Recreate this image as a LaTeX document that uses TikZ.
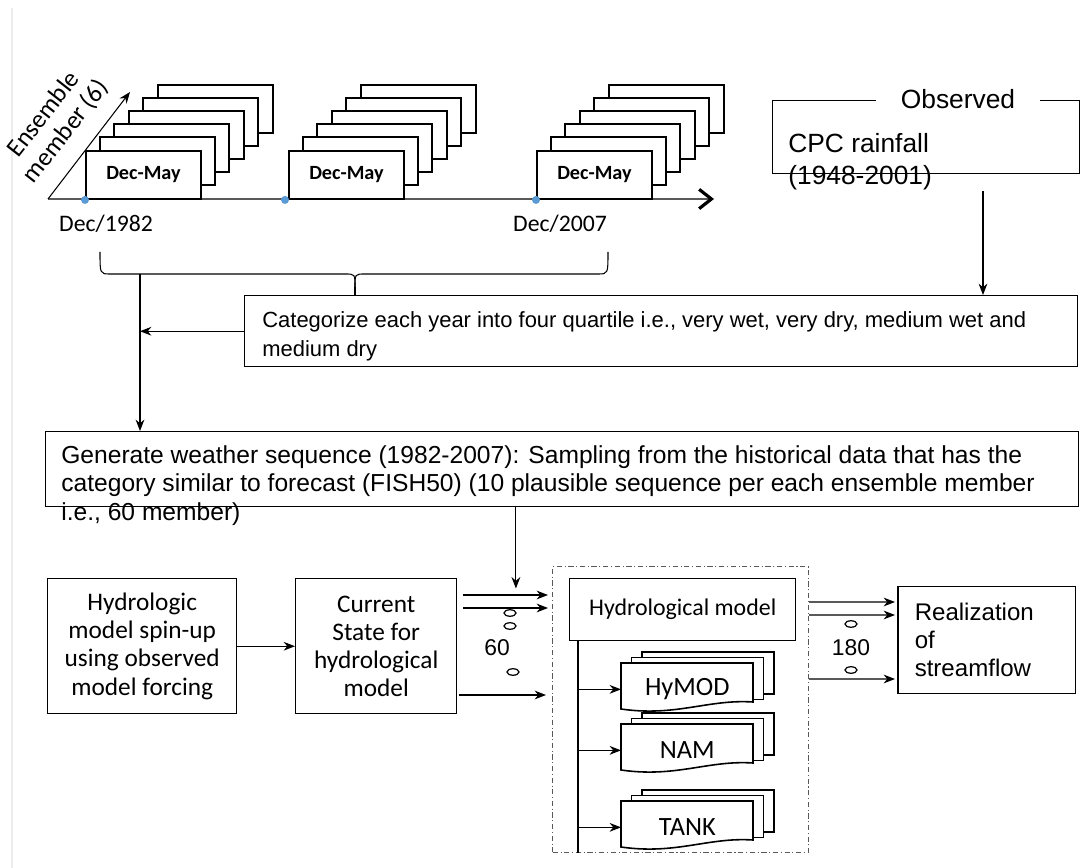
\documentclass[tikz,border=0pt]{standalone}
\usepackage{fontspec}
\setmainfont{Liberation Sans}
\newfontfamily\calibri{Carlito}
\usepackage{tikz}
\usetikzlibrary{arrows.meta, positioning}
\definecolor{dotblue}{RGB}{91,155,213}

% stacked document with a wavy bottom: name, left, top, label
\newcommand{\multidoc}[4]{%
  \foreach \k in {2,1}
    \draw[docline, fill=white] (#2+10.5*\k,#3-5.5*\k) rectangle ++(132,42);
  \draw[docline, fill=white] (#2,#3) -- ++(132,0) -- ++(0,39)
    .. controls +(-45,-3) and +(55,8) .. (#2,#3+46) -- cycle;
  \node[doctext, anchor=north west] (#1) at (#2,#3) {#4};
}

\begin{document}
\begin{tikzpicture}[
    x=0.02cm, y=-0.02cm,
    >={Stealth[length=6.5pt, width=5pt]},
  ]
  \tikzset{
    box/.style = {draw, line width=0.85pt, fill=white, inner sep=0pt},
    conn/.style = {line width=0.6pt},
    stackline/.style = {line width=1.1pt},
    stackbox/.style = {draw, stackline, fill=white, inner sep=0pt,
      minimum width=2.3cm, minimum height=0.96cm,
      font=\calibri\bfseries\fontsize{11.5}{13}\selectfont},
    datelabel/.style = {font=\calibri\fontsize{13.5}{16}\selectfont},
    calbox/.style = {box, align=center, font=\calibri\fontsize{14.4}{16}\selectfont},
    docline/.style = {line width=0.9pt},
    doctext/.style = {inner sep=0pt, minimum width=2.64cm, minimum height=1.04cm,
      font=\calibri\fontsize{15}{16}\selectfont},
    ovalmark/.style = {line width=0.7pt},
    numtext/.style = {font=\fontsize{13}{15}\selectfont},
  }

  \useasboundingbox (0,0) rectangle (1086,868);
  \fill[white] (0,0) rectangle (1086,868);
  \draw[gray!15, line width=1.5pt] (12,8) -- (12,868);

  % Time axis
  \coordinate (t0) at (48,199);
  \coordinate (tend) at (714,199);
  \draw[line width=0.6pt, gray!70!black,
        -{Straight Barb[length=7pt, width=11pt, line width=1.8pt, black]}] (t0) -- (tend);

  % Ensemble direction
  \coordinate (ens tip) at (130,92);
  \draw[conn, ->] (t0) -- (ens tip);
  \node[rotate=52, align=center, font=\calibri\fontsize{14.5}{16}\selectfont]
    (ens label) at (55,123) {Ensemble\\member (6)};

  % Stacks of members
  \foreach \sx/\n in {85/1, 288/2, 536/3} {
    \foreach \k in {5,...,1}
      \draw[stackline, fill=white] (\sx+14.6*\k,150-13*\k) rectangle ++(115,48);
    \node[stackbox, anchor=north west] (s\n) at (\sx,150) {Dec-May};
  }
  \fill[dotblue] (s1.south west) circle (0.08cm);
  \fill[dotblue] ([xshift=-0.06cm]s2.south west) circle (0.08cm);
  \fill[dotblue] (s3.south west) circle (0.08cm);

  \node[datelabel] (y1982) at (106,224) {Dec/1982};
  \node[datelabel] (y2007) at (560,224) {Dec/2007};

  % Observed
  \node[box, anchor=north west, minimum width=6.14cm, minimum height=1.46cm] (obs) at (772,100) {};
  \node[fill=white, inner xsep=0.5cm, inner ysep=1pt, font=\fontsize{15}{18}\selectfont]
    (obs title) at (958,99) {Observed};
  \node[anchor=base west, inner sep=0pt, font=\fontsize{15}{18}\selectfont]
    (cpc) at (788,153) {CPC rainfall};
  \node[anchor=base west, inner sep=0pt, font=\fontsize{15}{18}\selectfont]
    (cpc years) at (788,185) {(1948-2001)};

  % Categorize
  \node[box, anchor=north west, minimum width=16.66cm, minimum height=1.42cm] (cat) at (244,295) {};
  \node[anchor=north west, inner sep=0pt, align=left, font=\fontsize{12.5}{16.6}\selectfont]
    (cat text) at (262,311)
    {Categorize each year into four quartile i.e., very wet, very dry, medium wet and\\medium dry};

  % Brace over the forecast years
  \coordinate (brace tip) at (355,287);
  \coordinate (brace foot) at (140,274);
  \draw[conn] (100,252) .. controls (100,274) .. (110,274) -- (345,274)
    .. controls (355,274) .. (brace tip);
  \draw[conn] (608,252) .. controls (608,274) .. (598,274) -- (365,274)
    .. controls (355,274) .. (brace tip);
  \draw[conn] (brace tip) -- (brace tip |- cat.north);

  \coordinate (obs out) at ([shift={(211,17)}]obs.south west);
  \draw[conn, ->] (obs out) -- (obs out |- cat.north);

  % Generate
  \node[box, anchor=north west, minimum width=20.66cm, minimum height=1.5cm] (gen) at (45,431) {};
  \node[anchor=north west, inner sep=0pt, align=left, font=\fontsize{14}{16.2}\selectfont]
    (gen text) at (61,445)
    {Generate weather sequence (1982-2007): Sampling from the historical data that has the\\
     category similar to forecast (FISH50) (10 plausible sequence per each ensemble member\\
     i.e., 60 member)};

  \draw[conn, ->] (brace foot) -- (brace foot |- gen.north);
  \draw[conn, ->] (cat.west) -- (cat.west -| brace foot);

  % Spin-up and current state
  \node[calbox, anchor=north west, minimum width=3.78cm, minimum height=2.7cm] (spin) at (47,578)
    {Hydrologic\\model spin-up\\using observed\\model forcing};
  \node[calbox, anchor=north west, minimum width=3.22cm, minimum height=2.7cm] (cur) at (295,578)
    {Current\\State for\\hydrological\\model};
  \draw[conn, ->] (spin) -- (cur);

  % Model container
  \node[draw=gray!70!black, line width=0.7pt,
        dash pattern=on 3pt off 1.5pt on 0.6pt off 1.5pt,
        anchor=north west, minimum width=5.12cm, minimum height=5.72cm] (mcont) at (552,566) {};
  \node[box, anchor=north west, minimum width=4.52cm, minimum height=1.24cm,
        font=\calibri\fontsize{13.6}{15}\selectfont] (hm) at (569,578) {Hydrological model};

  \coordinate (gen out) at ([xshift=9.42cm]gen.south west);
  \draw[conn, ->] (gen out) -- ++(0,81);

  \draw[conn, ->] ([shift={(6,17)}]cur.north east) -- ([shift={(-4,29)}]mcont.north west);
  \draw[conn, ->] ([shift={(6,30)}]cur.north east) -- ([shift={(-4,42)}]mcont.north west);
  \draw[conn, ->] ([shift={(2,117)}]cur.north east) -- ([shift={(-6,129)}]mcont.north west);
  \foreach \ex/\ey in {510/613, 510/626, 513/672}
    \draw[ovalmark] (\ex,\ey) ellipse (0.12cm and 0.065cm);
  \node[numtext] (n60) at (497,648) {60};

  % Models
  \multidoc{hymod}{621}{663}{HyMOD}
  \multidoc{nam}{621}{724}{NAM}
  \multidoc{tank}{621}{801}{TANK}

  \coordinate (trunk) at ([xshift=0.18cm]hm.south west);
  \draw[conn] (trunk) -- (trunk |- mcont.south);
  \foreach \m in {hymod, nam, tank}
    \draw[conn, ->] (trunk |- \m.west) -- (\m.west);

  % Realization
  \node[box, anchor=north west, minimum height=2.14cm, text width=2.88cm, inner xsep=0.34cm,
        align=left, font=\fontsize{13.7}{16}\selectfont] (real) at (897,586)
    {Realization\\of\\streamflow};

  \draw[conn, ->] ([yshift=-0.72cm]mcont.north east) -- ([shift={(-2,16)}]real.north west);
  \draw[conn, ->] ([yshift=-0.98cm]mcont.north east) -- ([shift={(-2,29)}]real.north west);
  \draw[conn, ->] ([yshift=-2.26cm]mcont.north east) -- ([shift={(-2,93)}]real.north west);
  \foreach \ex/\ey in {851/624, 851/670}
    \draw[ovalmark] (\ex,\ey) ellipse (0.12cm and 0.065cm);
  \node[numtext] (n180) at (851,648) {180};

\end{tikzpicture}
\end{document}
